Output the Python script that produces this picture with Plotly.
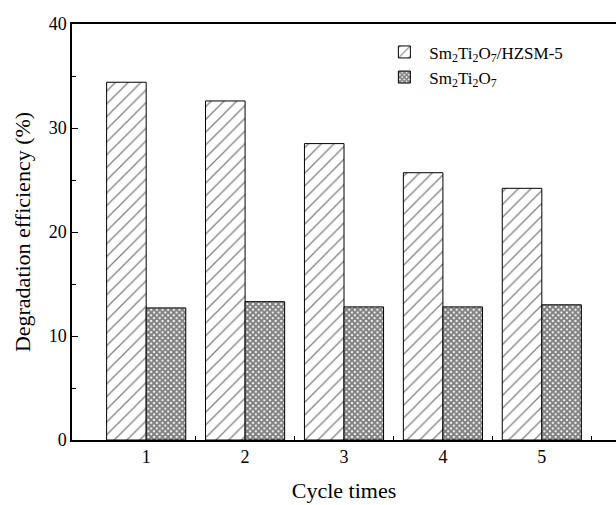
import plotly.graph_objects as go

cycles = [1, 2, 3, 4, 5]
composite = [34.4, 32.6, 28.5, 25.7, 24.2]
pure = [12.7, 13.3, 12.8, 12.8, 13.0]
name_composite = "Sm<sub>2</sub>Ti<sub>2</sub>O<sub>7</sub>/HZSM-5"
name_pure = "Sm<sub>2</sub>Ti<sub>2</sub>O<sub>7</sub>"
yticks = [0, 10, 20, 30, 40]

FONT = "Liberation Serif"

fig = go.Figure()
fig.add_trace(go.Bar(
    x=cycles, y=composite, name=name_composite,
    marker=dict(color="white", line=dict(color="black", width=1),
                pattern=dict(shape="/", fgcolor="black", bgcolor="white", size=9, solidity=0.14)),
))
fig.add_trace(go.Bar(
    x=cycles, y=pure, name=name_pure,
    marker=dict(color="white", line=dict(color="black", width=1),
                pattern=dict(shape="x", fgcolor="black", bgcolor="white", size=4, solidity=0.75)),
))

fig.update_layout(
    width=616, height=505,
    margin=dict(l=72, r=0, t=24, b=65),
    paper_bgcolor="white", plot_bgcolor="white",
    barmode="group", bargap=0.2, bargroupgap=0,
    font=dict(family=FONT, color="black", size=17),
    showlegend=True,
    legend=dict(x=0.565, y=0.975, xanchor="left", yanchor="top",
                bgcolor="rgba(0,0,0,0)", font=dict(family=FONT, size=17),
                tracegroupgap=2, itemwidth=40),
)
fig.update_xaxes(
    range=[0.25, 5.75], tickmode="array", tickvals=cycles, ticktext=[str(c) for c in cycles],
    ticks="", showline=True, linecolor="black", linewidth=1.5, mirror=True,
    showgrid=False, zeroline=False,
    minor=dict(tickmode="array", tickvals=[1.5, 2.5, 3.5, 4.5, 5.5], ticks="inside", ticklen=4, tickcolor="black"),
    title=dict(text="Cycle times", font=dict(size=22, family=FONT), standoff=16),
    tickfont=dict(size=18, family=FONT),
)
fig.update_yaxes(
    range=[0, 40], tickmode="array", tickvals=yticks,
    ticks="inside", ticklen=6, tickcolor="black", tickwidth=1,
    showline=True, linecolor="black", linewidth=1.5,
    showgrid=False, zeroline=False,
    minor=dict(tickmode="array", tickvals=[5, 15, 25, 35], ticks="inside", ticklen=4, tickcolor="black"),
    title=dict(text="Degradation efficiency (%)", font=dict(size=22, family=FONT), standoff=12),
    tickfont=dict(size=18, family=FONT),
)

fig.write_html("out.html")
